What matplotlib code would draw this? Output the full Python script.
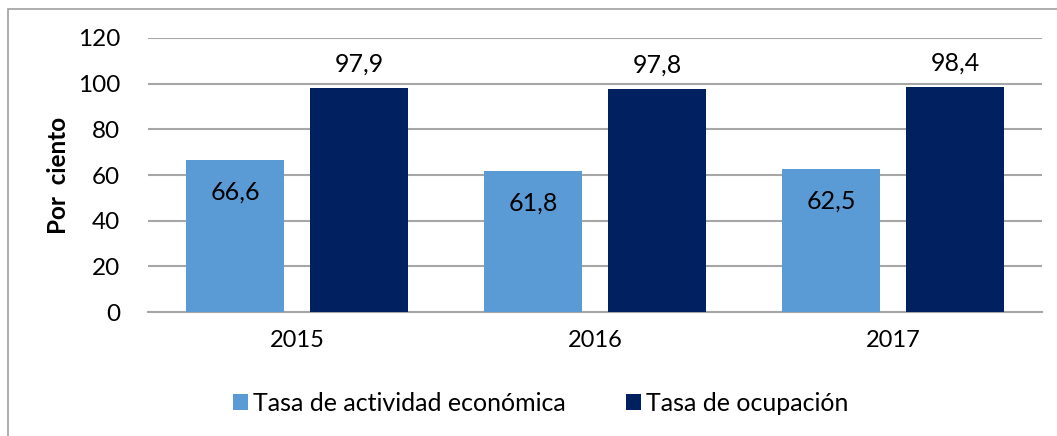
import matplotlib.pyplot as plt
import numpy as np
from matplotlib.patches import Rectangle

plt.rcParams['font.family'] = ['Lato', 'DejaVu Sans']

years = ['2015', '2016', '2017']
actividad = [66.6, 61.8, 62.5]
ocupacion = [97.9, 97.8, 98.4]
series_names = ['Tasa de actividad económica', 'Tasa de ocupación']

light = '#5b9bd5'
dark = '#002060'
grid_col = '#a6a6a6'

fig = plt.figure(figsize=(10.57, 4.36), dpi=100)
ax = fig.add_axes([148 / 1057, 1 - 312 / 436, (1042 - 148) / 1057, 274 / 436])

# chart frame (right and bottom edges fall outside the picture)
fig.patches.append(Rectangle((8 / 1057, -0.1), 1.2, 1 - 9 / 436 + 0.1,
                             transform=fig.transFigure, fill=False,
                             edgecolor='#a0a0a0', linewidth=1.2))

x = np.arange(len(years))
w = 0.332
off = 0.208
b1 = ax.bar(x - off, actividad, w, color=light, label=series_names[0], zorder=3)
b2 = ax.bar(x + off, ocupacion, w, color=dark, label=series_names[1], zorder=3)

for rect, v in zip(b1, actividad):
    ax.text(rect.get_x() + rect.get_width() / 2, v - 14, f'{v:.1f}'.replace('.', ','),
            ha='center', va='center', fontsize=18, color='#000000', zorder=4)
for rect, v in zip(b2, ocupacion):
    ax.text(rect.get_x() + rect.get_width() / 2, v + 10.5, f'{v:.1f}'.replace('.', ','),
            ha='center', va='center', fontsize=18, color='#000000', zorder=4)

ax.set_xlim(-0.5, 2.5)
ax.set_ylim(0, 120)
ax.set_yticks(range(0, 121, 20))
ax.set_xticks(x)
ax.set_xticklabels(years)
ax.yaxis.grid(True, color=grid_col, linewidth=1.5, zorder=0)
ax.set_axisbelow(True)
for s in ['top', 'right', 'left']:
    ax.spines[s].set_visible(False)
ax.spines['bottom'].set_color(grid_col)
ax.spines['bottom'].set_linewidth(1.5)
ax.tick_params(axis='both', length=0, colors='#000000')
ax.tick_params(axis='y', pad=20, labelsize=17.5)
ax.tick_params(axis='x', pad=13, labelsize=17)
ax.set_ylabel('Por  ciento', fontsize=17.5, fontweight='bold', labelpad=6)

fig.legend(loc='center', bbox_to_anchor=(541 / 1057, 1 - 403 / 436), ncol=2,
           frameon=False, fontsize=18, handlelength=0.6, handleheight=0.6,
           handletextpad=0.2, columnspacing=2.4)

plt.savefig('out.png', dpi=100)
